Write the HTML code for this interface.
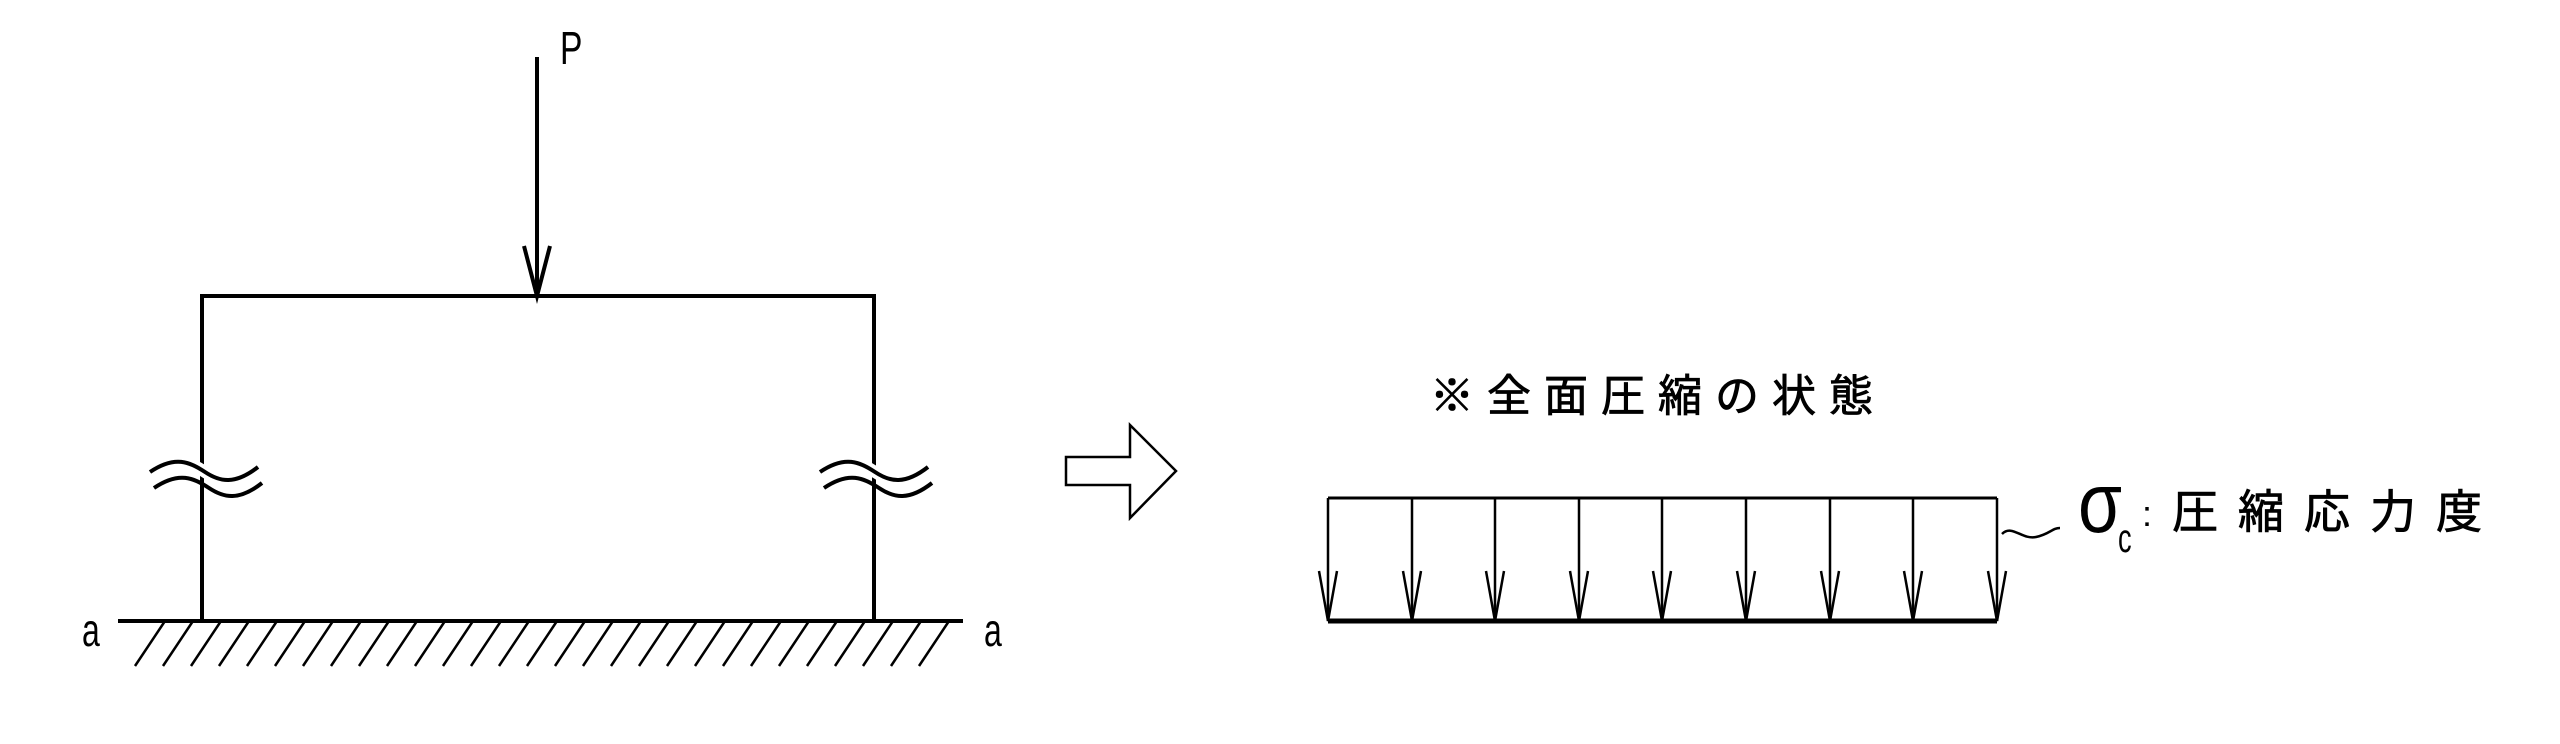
<!DOCTYPE html>
<html><head><meta charset="utf-8"><style>
html,body{margin:0;padding:0;background:#fff;width:2560px;height:744px;overflow:hidden}
svg{display:block}
text{font-family:"Liberation Sans","Noto Sans CJK JP",sans-serif;fill:#000}
</style></head><body>
<svg width="2560" height="744" viewBox="0 0 2560 744" xmlns="http://www.w3.org/2000/svg">
<g stroke="#000" stroke-width="4" fill="none">
<line x1="537" y1="57" x2="537" y2="296"/>
<polyline points="524,246 537,296 550,246"/>
<polyline points="202,621 202,296 874,296 874,621"/>
<line x1="118" y1="621" x2="963" y2="621"/>
<g stroke-width="2.5">
<path d="M165,621 l-30,45 M193,621 l-30,45 M221,621 l-30,45 M249,621 l-30,45 M277,621 l-30,45 M305,621 l-30,45 M333,621 l-30,45 M361,621 l-30,45 M389,621 l-30,45 M417,621 l-30,45 M445,621 l-30,45 M473,621 l-30,45 M501,621 l-30,45 M529,621 l-30,45 M557,621 l-30,45 M585,621 l-30,45 M613,621 l-30,45 M641,621 l-30,45 M669,621 l-30,45 M697,621 l-30,45 M725,621 l-30,45 M753,621 l-30,45 M781,621 l-30,45 M809,621 l-30,45 M837,621 l-30,45 M865,621 l-30,45 M893,621 l-30,45 M921,621 l-30,45 M949,621 l-30,45"/>
</g>
<path d="M150,472 C175,455 190,462 205,472 S235,485 258,467" stroke="#fff" stroke-width="12"/>
<path d="M150,472 C175,455 190,462 205,472 S235,485 258,467"/>
<path d="M154,488 C179,471 194,478 209,488 S239,501 262,483"/>
<path d="M820,472 C845,455 860,462 875,472 S905,485 928,467" stroke="#fff" stroke-width="12"/>
<path d="M820,472 C845,455 860,462 875,472 S905,485 928,467"/>
<path d="M824,488 C849,471 864,478 879,488 S909,501 932,483"/>
<polygon points="1066,457 1130,457 1130,425 1176,471 1130,518 1130,485 1066,485" stroke-width="2.5"/>
<line x1="1328" y1="498" x2="1997" y2="498" stroke-width="3"/>
<line x1="1328" y1="621" x2="1997" y2="621" stroke-width="5"/>
<g stroke-width="2.5">
<path d="M1328,498 V621 M1412,498 V621 M1495,498 V621 M1579,498 V621 M1662,498 V621 M1746,498 V621 M1830,498 V621 M1913,498 V621 M1997,498 V621"/>
<path d="M1319,571 L1328,621 L1337,571 M1403,571 L1412,621 L1421,571 M1486,571 L1495,621 L1504,571 M1570,571 L1579,621 L1588,571 M1653,571 L1662,621 L1671,571 M1737,571 L1746,621 L1755,571 M1821,571 L1830,621 L1839,571 M1904,571 L1913,621 L1922,571 M1988,571 L1997,621 L2006,571"/>
<path d="M2002,534 C2012,524 2022,540 2036,537 S2052,528 2060,528"/>
</g>
</g>
<text transform="translate(560,64) scale(0.8,1.1)" font-size="42">P</text>
<text transform="translate(82,646) scale(0.8,1.15)" font-size="40">a</text>
<text transform="translate(984,646) scale(0.8,1.15)" font-size="40">a</text>
<text x="1430" y="411" font-size="44" letter-spacing="13" stroke="#000" stroke-width="0.8">※全面圧縮の状態</text>
<text transform="translate(2078,532) scale(1.05,1.25)" font-size="68">σ</text>
<text transform="translate(2118,552) scale(0.8,1.2)" font-size="34">c</text>
<text x="2142" y="526" font-size="36">:</text>
<text x="2172" y="528" font-size="46" letter-spacing="20" stroke="#000" stroke-width="0.8">圧縮応力度</text>
</svg>
</body></html>
